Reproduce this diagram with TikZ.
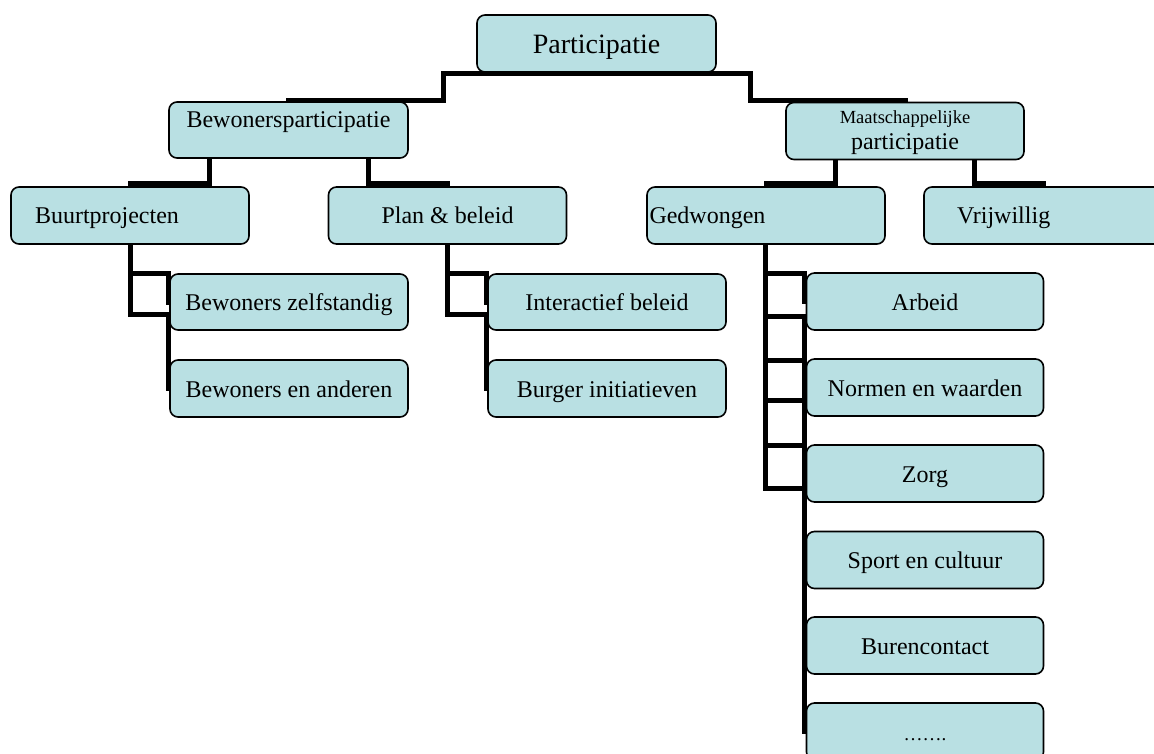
\documentclass[tikz,border=0pt]{standalone}
\usepackage{fontspec}
\setmainfont{Liberation Serif}
\usetikzlibrary{calc}
\pgfdeclarelayer{bg}
\pgfsetlayers{bg,main}
\definecolor{boxfill}{RGB}{185,224,227}
\begin{document}
\begin{tikzpicture}[x=1pt,y=-1pt,
  box/.style={draw=black, line width=1.6pt, fill=boxfill, rounded corners=8pt,
    minimum width=238pt, minimum height=57pt, inner sep=0pt,
    font=\fontsize{24}{28}\selectfont, text height=20pt, text depth=3pt},
  conn/.style={line width=5pt, draw=black},
  txt/.style={inner sep=0pt, anchor=base}]
\useasboundingbox (0,0) rectangle (1154,754);
\clip (0,0) rectangle (1154,754);

% level 0
\node[box, minimum width=239pt, font=\fontsize{28}{32}\selectfont, text height=24pt, text depth=3pt] (part) at (596.5,43.5) {Participatie};
% level 1
\node[box, minimum width=239pt, minimum height=56pt, text height=10pt, text depth=15.4pt] (bew) at (288.5,130) {Bewonersparticipatie};
\node[box] (maat) at (905,131) {};
\node[txt, font=\fontsize{18.5}{20}\selectfont] (maat1) at (905,123.3) {Maatschappelijke};
\node[txt, font=\fontsize{24}{28}\selectfont] (maat2) at (905,150) {participatie};
% level 2
\node[box, text width=190pt, align=left] (buurt) at (130,215.5) {Buurtprojecten};
\node[box] (plan) at (447.5,215.5) {Plan \& beleid};
\node[box, text width=233pt, align=left] (gedw) at (766,215.5) {Gedwongen};
\node[box, text width=172pt, align=left] (vrij) at (1043,215.5) {Vrijwillig};
% level 3
\node[box, minimum height=56pt] (bz) at (289,302) {Bewoners zelfstandig};
\node[box] (ba) at (289,388.5) {Bewoners en anderen};
\node[box, minimum height=56pt] (ib) at (607,302) {Interactief beleid};
\node[box] (bi) at (607,388.5) {Burger initiatieven};
\node[box, minimum width=237pt] (arb) at (925,301.5) {Arbeid};
\node[box, minimum width=237pt] (nw) at (925,387.5) {Normen en waarden};
\node[box, minimum width=237pt] (zorg) at (925,473.5) {Zorg};
\node[box, minimum width=237pt] (sport) at (925,560) {Sport en cultuur};
\node[box, minimum width=237pt] (buren) at (925,645.5) {Burencontact};
\node[box, minimum width=237pt, font=\fontsize{19}{22}\selectfont] (dots) at (925,731.5) {…….};

\begin{pgfonlayer}{bg}
  \draw[conn] ($(part.south)+(0,1)$) -| (443.5,101) -| (bew.north);
  \draw[conn] ($(part.south)+(0,1)$) -| (750.5,101) -| (maat.north);
  \draw[conn] ($(bew.south)+(-79,0)$) |- ($(buurt.north)+(0,-2.5)$) -- (buurt.north);
  \draw[conn] ($(bew.south)+(80,0)$) |- ($(plan.north)+(0,-2.5)$) -- (plan.north);
  \draw[conn] ($(maat.south)+(-69.5,0)$) |- ($(gedw.north)+(0,-2.5)$) -- (gedw.north);
  \draw[conn] ($(maat.south)+(69.5,0)$) |- ($(vrij.north)+(0,-2.5)$) -- (vrij.north);
  \draw[conn] (buurt.south) |- (168.5,273.5) |- (bz.west);
  \draw[conn] (buurt.south) |- (168.5,314.5) |- (ba.west);
  \draw[conn] (plan.south) |- (486.5,273.5) |- (ib.west);
  \draw[conn] (plan.south) |- (486.5,314.5) |- (bi.west);
  \draw[conn] ($(gedw.south)+(-1,0)$) |- (804,273) |- (arb.west);
  \draw[conn] ($(gedw.south)+(-1,0)$) |- (804,316) |- (nw.west);
  \draw[conn] ($(gedw.south)+(-1,0)$) |- (804,360.5) |- (zorg.west);
  \draw[conn] ($(gedw.south)+(-1,0)$) |- (804,400.5) |- (sport.west);
  \draw[conn] ($(gedw.south)+(-1,0)$) |- (804,445) |- (buren.west);
  \draw[conn] ($(gedw.south)+(-1,0)$) |- (804,488.5) |- (dots.west);
\end{pgfonlayer}
\end{tikzpicture}
\end{document}
